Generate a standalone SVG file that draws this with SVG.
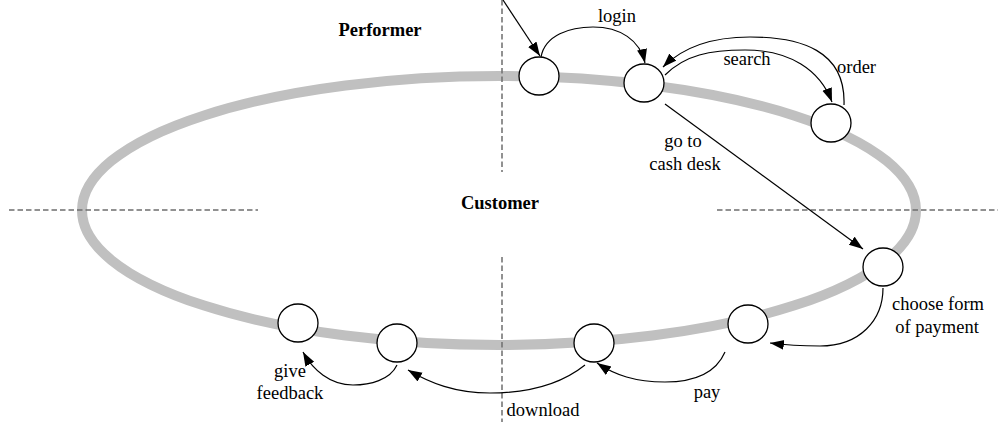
<svg xmlns="http://www.w3.org/2000/svg" width="998" height="422" viewBox="0 0 998 422">
<style>
.ring{fill:none;stroke:#c0c0c0;stroke-width:10}
.dash{fill:none;stroke:#6e6e6e;stroke-width:1.5;stroke-dasharray:5.5 3}
.node{fill:#fff;stroke:#000;stroke-width:1.3}
.edge{fill:none;stroke:#000;stroke-width:1.2;marker-end:url(#arr)}
text{font-family:"Liberation Serif","Times New Roman",serif;font-size:18.5px;fill:#000}
.b{font-weight:bold}
</style>
<defs>
<marker id="arr" markerUnits="userSpaceOnUse" markerWidth="16" markerHeight="12" refX="14" refY="5" orient="auto">
<path d="M0,0 L14,5 L0,10 z" fill="#000"/>
</marker>
</defs>
<rect width="998" height="422" fill="#fff"/>
<ellipse class="ring" cx="499" cy="210.5" rx="417" ry="134.5"/>
<g id="dividers">
<line class="dash" x1="502" y1="0" x2="502" y2="172"/>
<line class="dash" x1="502" y1="257" x2="502" y2="422"/>
<line class="dash" x1="9" y1="210" x2="258" y2="210"/>
<line class="dash" x1="717" y1="210" x2="998" y2="210"/>
</g>
<text class="b" x="380" y="36" text-anchor="middle">Performer</text>
<text class="b" x="500" y="209" text-anchor="middle">Customer</text>
<g id="n1"><ellipse class="node" cx="539" cy="76" rx="20" ry="19"/></g>
<g id="n2"><ellipse class="node" cx="644" cy="83" rx="20" ry="19"/></g>
<g id="n3"><ellipse class="node" cx="831" cy="123" rx="20" ry="19"/></g>
<g id="n4"><ellipse class="node" cx="883" cy="267" rx="20" ry="19"/></g>
<g id="n5"><ellipse class="node" cx="748" cy="324" rx="20" ry="19"/></g>
<g id="n6"><ellipse class="node" cx="594" cy="343" rx="20" ry="19"/></g>
<g id="n7"><ellipse class="node" cx="397" cy="343" rx="20" ry="19"/></g>
<g id="n8"><ellipse class="node" cx="298" cy="323" rx="20" ry="19"/></g>
<g id="connectors">
<path class="edge" d="M503 0 L540 56"/>
<path class="edge" d="M541 57 C545 35 570 27 593 27 C620 27 640 40 645 63"/>
<path class="edge" d="M665 75 C685 55 710 50 745 50 C790 50 820 70 832 102"/>
<path class="edge" d="M844 105 C846 50 800 37 750 37 C705 37 680 50 663 67"/>
<path class="edge" d="M665 104 L863 249"/>
<path class="edge" d="M883 288 C883 320 860 346 820 346 C800 346 785 345 770 343"/>
<path class="edge" d="M725 352 C715 375 690 382 665 382 C635 382 615 375 597 363"/>
<path class="edge" d="M585 365 C560 385 525 393 490 393 C455 393 430 383 408 370"/>
<path class="edge" d="M397 365 C390 380 370 385 353 385 C330 385 313 370 303 352"/>
</g>
<g id="labels">
<text x="617" y="22" text-anchor="middle">login</text>
<text x="747" y="65" text-anchor="middle">search</text>
<text x="837" y="73">order</text>
<text x="683" y="147" text-anchor="middle">go to</text>
<text x="685" y="170" text-anchor="middle">cash desk</text>
<text x="938" y="310" text-anchor="middle">choose form</text>
<text x="937" y="333" text-anchor="middle">of payment</text>
<text x="707" y="398" text-anchor="middle">pay</text>
<text x="543" y="416" text-anchor="middle">download</text>
<text x="290" y="377" text-anchor="middle">give</text>
<text x="290" y="399" text-anchor="middle">feedback</text>
</g>
</svg>
